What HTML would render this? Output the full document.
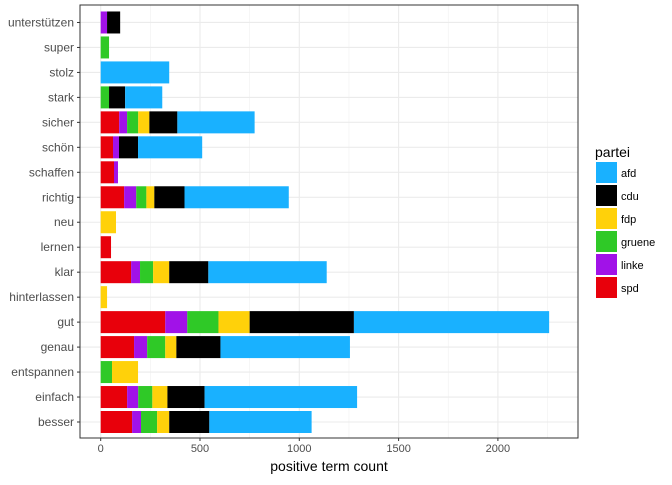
<!DOCTYPE html>
<html><head><meta charset="utf-8"><style>
body{margin:0;background:#fff;font-family:"Liberation Sans",sans-serif}
</style></head><body>
<svg id="chart" width="672" height="480" xmlns="http://www.w3.org/2000/svg">
<rect width="672" height="480" fill="#fff"/>
<g id="grid"></g><g id="bars"></g><g id="axes"></g><g id="legend"></g>
</svg>
<script>
const categories=["besser","einfach","entspannen","genau","gut","hinterlassen","klar","lernen","neu","richtig","schaffen","schön","sicher","stark","stolz","super","unterstützen"];
const parties=["spd","linke","gruene","fdp","cdu","afd"];
const colors=["#e8000b","#a112e8","#2fc927","#ffd10a","#000000","#19b1ff"];
const spd  =[158,133,0,168,325,0,153,52,0,118,67,62,93,0,0,0,0];
const linke=[45,56,0,66,111,0,45,0,0,61,20,30,40,0,0,0,32];
const gruene=[81,71,57,91,157,0,66,0,0,51,0,0,56,42,0,42,0];
const fdp  =[61,76,131,56,157,32,81,0,77,40,0,0,56,0,0,0,0];
const cdu  =[202,187,0,222,525,0,197,0,0,152,0,96,141,81,0,0,66];
const afd  =[515,768,0,652,983,0,596,0,0,525,0,323,389,187,345,0,0];
const series=[spd,linke,gruene,fdp,cdu,afd];
const xTicks=[0,500,1000,1500,2000];
const legendOrder=["afd","cdu","fdp","gruene","linke","spd"];
const NS="http://www.w3.org/2000/svg";
const L=80,R=578,T=5,B=438;
const x=v=>100.7+v*0.1986;
const y=i=>422-i*24.97;
function mk(tag,attrs,parent,text){const e=document.createElementNS(NS,tag);for(const k in attrs)e.setAttribute(k,attrs[k]);if(text!==undefined)e.textContent=text;parent.appendChild(e);return e;}
const grid=document.getElementById('grid'),bars=document.getElementById('bars'),axes=document.getElementById('axes'),leg=document.getElementById('legend');
mk('rect',{x:L,y:T,width:R-L,height:B-T,fill:'#fff'},grid);
for(let t=250;t<2500;t+=500){const g=mk('line',{x1:x(t),x2:x(t),y1:T,y2:B,stroke:'#f0f0f0','stroke-width':0.6},grid);}
xTicks.forEach(t=>{const g=mk('line',{x1:x(t),x2:x(t),y1:T,y2:B,stroke:'#ebebeb','stroke-width':1.1},grid);});
categories.forEach((c,i)=>{const g=mk('line',{x1:L,x2:R,y1:y(i),y2:y(i),stroke:'#ebebeb','stroke-width':1.1},grid);});
categories.forEach((c,i)=>{let cum=0;series.forEach((s,p)=>{const v=s[i];if(v>0){const r=mk('rect',{x:x(cum),y:y(i)-11,width:x(cum+v)-x(cum),height:22,fill:colors[p]},bars);

}cum+=v;});});
const border=mk('rect',{x:L,y:T,width:R-L,height:B-T,fill:'none',stroke:'#333','stroke-width':1},axes);

categories.forEach((c,i)=>{mk('line',{x1:L-3,x2:L,y1:y(i),y2:y(i),stroke:'#333'},axes);const t=mk('text',{x:L-6,y:y(i)+4,'text-anchor':'end','font-size':12,fill:'#4d4d4d'},axes,c);
});
xTicks.forEach(v=>{mk('line',{x1:x(v),x2:x(v),y1:B,y2:B+3,stroke:'#333'},axes);const t=mk('text',{x:x(v),y:B+14,'text-anchor':'middle','font-size':11,fill:'#4d4d4d'},axes,String(v));
});
const xt=mk('text',{x:(L+R)/2,y:471,'text-anchor':'middle','font-size':14,fill:'#000'},axes,'positive term count');

const lt=mk('text',{x:595,y:157,'font-size':14,fill:'#000'},leg,'partei');

legendOrder.forEach((p,k)=>{const ci=parties.indexOf(p);const yy=162+k*23;
const r=mk('rect',{x:596,y:yy,width:21,height:21,fill:colors[ci]},leg);

const t=mk('text',{x:621,y:yy+15,'font-size':11,fill:'#000'},leg,p);
});
</script>
</body></html>
